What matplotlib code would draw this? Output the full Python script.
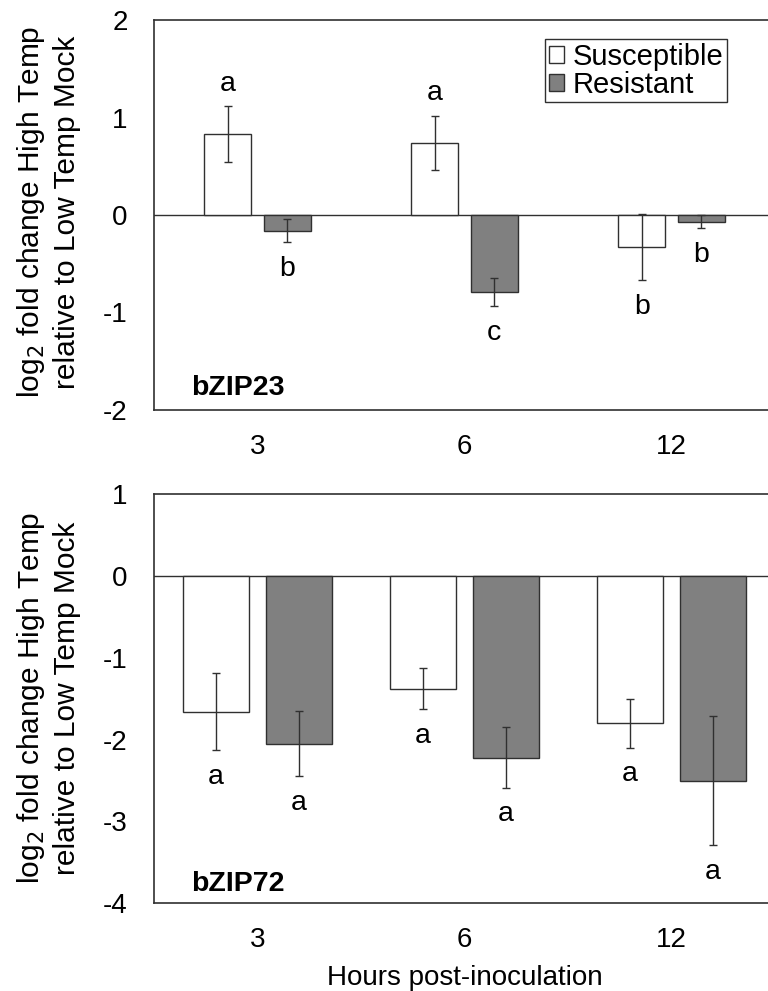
import numpy as np
import matplotlib.pyplot as plt
from matplotlib.patches import Patch

plt.rcParams['font.family'] = ['Liberation Sans', 'DejaVu Sans']

# hours post-inoculation
hours = ["3", "6", "12"]

# bZIP23
b23_sus = [0.83, 0.74, -0.33]
b23_sus_err = [0.29, 0.28, 0.34]
b23_res = [-0.16, -0.79, -0.07]
b23_res_err = [0.12, 0.145, 0.065]
b23_sus_letters = ["a", "a", "b"]
b23_res_letters = ["b", "c", "b"]

# bZIP72
b72_sus = [-1.66, -1.38, -1.80]
b72_sus_err = [0.47, 0.25, 0.30]
b72_res = [-2.05, -2.22, -2.50]
b72_res_err = [0.40, 0.37, 0.79]
b72_sus_letters = ["a", "a", "a"]
b72_res_letters = ["a", "a", "a"]

EDGE = "#303030"
GRAY = "#808080"


def draw_panel( ax, sus, sus_err, res, res_err, sus_let, res_let, width, offset, ylim, yticks, name, name_y ):

    x = np.arange( len(hours) )

    ax.bar( x - offset, sus, width, color="white", edgecolor=EDGE, linewidth=1.0, zorder=2 )
    ax.bar( x + offset, res, width, color=GRAY, edgecolor=EDGE, linewidth=1.0, zorder=2 )

    ax.errorbar( x - offset, sus, yerr=sus_err, fmt="none", ecolor=EDGE, elinewidth=1.0, capsize=3, capthick=1.0, zorder=3 )
    ax.errorbar( x + offset, res, yerr=res_err, fmt="none", ecolor=EDGE, elinewidth=1.0, capsize=3, capthick=1.0, zorder=3 )

    # significance letters
    for xs, vals, errs, lets in [ (x - offset, sus, sus_err, sus_let), (x + offset, res, res_err, res_let) ]:
        for xi, v, e, t in zip( xs, vals, errs, lets ):
            if v > 0:
                ax.annotate( t, (xi, v + e), xytext=(0, 16), textcoords="offset points",
                             ha="center", va="center", fontsize=20.5 )
            else:
                ax.annotate( t, (xi, v - e), xytext=(0, -19), textcoords="offset points",
                             ha="center", va="center", fontsize=20.5 )

    ax.axhline( 0, color=EDGE, linewidth=1.0, zorder=1 )

    ax.set_xlim( -0.5, 2.5 )
    ax.set_ylim( *ylim )
    ax.set_yticks( yticks )
    ax.set_yticklabels( [str(t) for t in yticks] )
    ax.set_xticks( x )
    ax.set_xticklabels( hours )
    ax.tick_params( length=0, labelsize=20 )
    ax.tick_params( axis="y", pad=19 )
    ax.tick_params( axis="x", pad=17 )

    for s in ax.spines.values():
        s.set_color( EDGE )
        s.set_linewidth( 1.2 )

    ax.text( 0.059, name_y, name, transform=ax.transAxes, fontsize=20.5, fontweight="bold", va="baseline" )


fig = plt.figure( figsize=(7.68, 9.91), dpi=100 )

ax1 = fig.add_axes( [154/768, 1 - 410/991, 621/768, 390/991] )
ax2 = fig.add_axes( [154/768, 1 - 903.3/991, 621/768, 409.3/991] )

draw_panel( ax1, b23_sus, b23_sus_err, b23_res, b23_res_err, b23_sus_letters, b23_res_letters,
            0.227, 0.144, (-2, 2), [2, 1, 0, -1, -2], "bZIP23", 0.038 )
draw_panel( ax2, b72_sus, b72_sus_err, b72_res, b72_res_err, b72_sus_letters, b72_res_letters,
            0.32, 0.2, (-4, 1), [1, 0, -1, -2, -3, -4], "bZIP72", 0.031 )

handles = [ Patch( facecolor="white", edgecolor=EDGE, label="Susceptible" ),
            Patch( facecolor=GRAY, edgecolor=EDGE, label="Resistant" ) ]
leg = ax1.legend( handles=handles, loc="upper right", bbox_to_anchor=(0.922, 0.9505), borderaxespad=0,
                  fontsize=21, fancybox=False, framealpha=1, edgecolor=EDGE,
                  handlelength=0.5, handleheight=0.5, handletextpad=0.3, labelspacing=0.0, borderpad=0.12 )
leg.get_frame().set_linewidth( 1.0 )

ylab = "log$_2$ fold change High Temp\nrelative to Low Temp Mock"
fig.text( 48/768, 1 - 212/991, ylab, rotation=90, ha="center", va="center", fontsize=21.5, linespacing=1.25 )
fig.text( 48/768, 1 - 698/991, ylab, rotation=90, ha="center", va="center", fontsize=21.5, linespacing=1.25 )

fig.text( 464.5/768, 1 - 978/991, "Hours post-inoculation", ha="center", va="center", fontsize=20 )

fig.savefig( "out.png", dpi=100 )
